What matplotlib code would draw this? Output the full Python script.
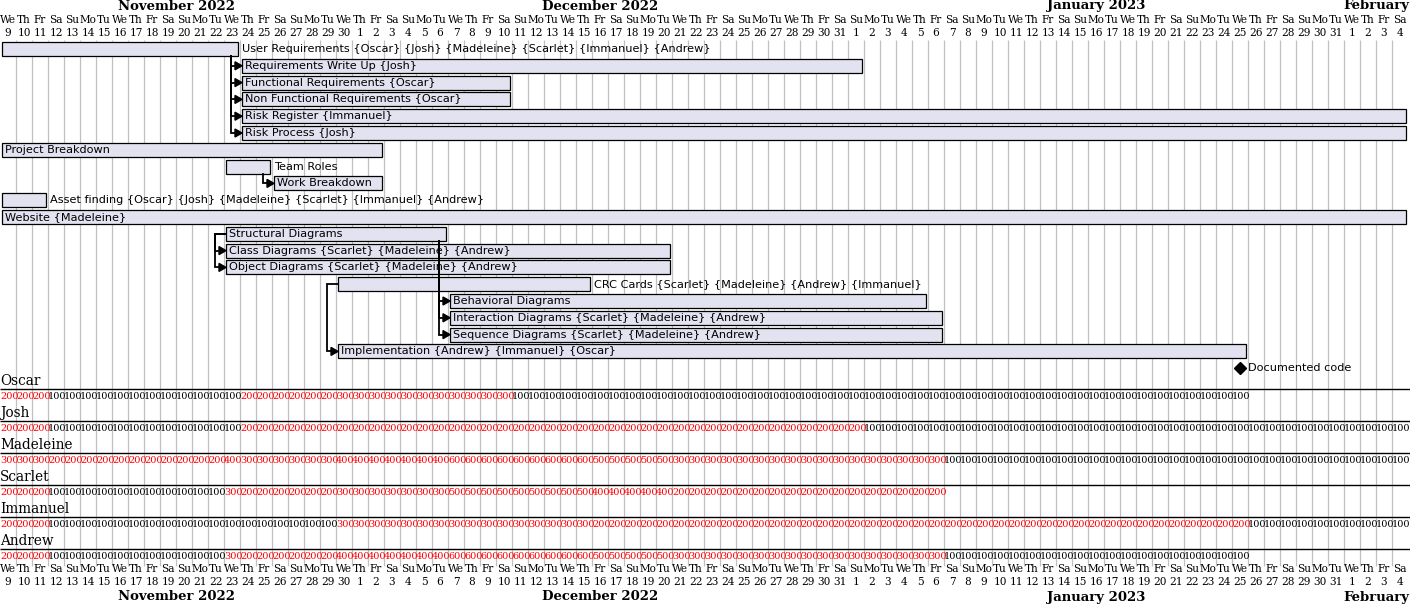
import matplotlib
matplotlib.use("Agg")
import matplotlib.pyplot as plt
from matplotlib.patches import Rectangle, Polygon
import pandas as pd

# calendar range shown
first_day = "2022-11-09"
last_day = "2023-02-04"

# tasks: name, first day, last day (inclusive), label drawn outside the bar
task_names = [
    "User Requirements {Oscar} {Josh} {Madeleine} {Scarlet} {Immanuel} {Andrew}",
    "Requirements Write Up {Josh}",
    "Functional Requirements {Oscar}",
    "Non Functional Requirements {Oscar}",
    "Risk Register {Immanuel}",
    "Risk Process {Josh}",
    "Project Breakdown",
    "Team Roles",
    "Work Breakdown",
    "Asset finding {Oscar} {Josh} {Madeleine} {Scarlet} {Immanuel} {Andrew}",
    "Website {Madeleine}",
    "Structural Diagrams",
    "Class Diagrams {Scarlet} {Madeleine} {Andrew}",
    "Object Diagrams {Scarlet} {Madeleine} {Andrew}",
    "CRC Cards {Scarlet} {Madeleine} {Andrew} {Immanuel}",
    "Behavioral Diagrams",
    "Interaction Diagrams {Scarlet} {Madeleine} {Andrew}",
    "Sequence Diagrams {Scarlet} {Madeleine} {Andrew}",
    "Implementation {Andrew} {Immanuel} {Oscar}",
]
task_start = [
    "2022-11-09", "2022-11-24", "2022-11-24", "2022-11-24", "2022-11-24",
    "2022-11-24", "2022-11-09", "2022-11-23", "2022-11-26", "2022-11-09",
    "2022-11-09", "2022-11-23", "2022-11-23", "2022-11-23", "2022-11-30",
    "2022-12-07", "2022-12-07", "2022-12-07", "2022-11-30",
]
task_end = [
    "2022-11-23", "2023-01-01", "2022-12-10", "2022-12-10", "2023-02-04",
    "2023-02-04", "2022-12-02", "2022-11-25", "2022-12-02", "2022-11-11",
    "2023-02-04", "2022-12-06", "2022-12-20", "2022-12-20", "2022-12-15",
    "2023-01-05", "2023-01-06", "2023-01-06", "2023-01-25",
]
label_outside = [0, 7, 9, 14]

milestone_name = "Documented code"
milestone_day = "2023-01-25"

# dependencies (source row, target row)
finish_to_start = [(0, 1), (0, 2), (0, 3), (0, 4), (0, 5), (7, 8),
                   (11, 15), (11, 16), (11, 17)]
start_to_start = [(11, 12), (11, 13), (14, 18)]

# daily resource load in %, as (number of days, load); None = nothing
resources = ["Oscar", "Josh", "Madeleine", "Scarlet", "Immanuel", "Andrew"]
oscar_load = [(3, 200), (12, 100), (6, 200), (11, 300), (46, 100), (10, None)]
josh_load = [(3, 200), (12, 100), (39, 200), (34, 100)]
madeleine_load = [(3, 300), (11, 200), (1, 400), (6, 300), (7, 400),
                  (9, 600), (5, 500), (17, 300), (29, 100)]
scarlet_load = [(3, 200), (11, 100), (1, 300), (6, 200), (7, 300),
                (9, 500), (5, 400), (17, 200), (29, None)]
immanuel_load = [(3, 200), (18, 100), (16, 300), (41, 200), (10, 100)]
andrew_load = [(3, 200), (11, 100), (1, 300), (6, 200), (7, 400),
               (9, 600), (5, 500), (17, 300), (19, 100), (10, None)]
loads = [oscar_load, josh_load, madeleine_load, scarlet_load,
         immanuel_load, andrew_load]

BAR_FILL = "#E2E2F0"
GRID = "#C0C0C0"
PX = 1 / 16  # one pixel in day units

t0 = pd.Timestamp(first_day)
days = pd.date_range(first_day, last_day)
n_days = len(days)


def day_index(d):
    return (pd.Timestamp(d) - t0).days


fig = plt.figure(figsize=(14.10, 6.04), dpi=100)
ax = fig.add_axes([0, 0, 1, 1])
ax.set_xlim(0, 1410 / 16)
ax.set_ylim(604, 0)
ax.axis("off")

# day grid
ax.vlines(range(1, n_days), 40, 566, color=GRID, lw=0.9, zorder=0)

# header / footer calendar
short = {0: "Mo", 1: "Tu", 2: "We", 3: "Th", 4: "Fr", 5: "Sa", 6: "Su"}
for i, d in enumerate(days):
    for yn, yd in ((20, 33), (569, 582)):
        ax.text(i + 0.5, yn, short[d.dayofweek], ha="center", va="center",
                family="DejaVu Serif", fontsize=7.6)
        ax.text(i + 0.5, yd, str(d.day), ha="center", va="center",
                family="DejaVu Serif", fontsize=7.6)
months = pd.Series(range(n_days), index=days).groupby(
    [days.year, days.month])
for (yr, mo), idx in months:
    mid = (idx.iloc[0] + idx.iloc[-1] + 1) / 2
    name = pd.Timestamp(year=yr, month=mo, day=1).strftime("%B")
    label = name if mo == 2 else f"{name} {yr}"
    for y in (6, 597):
        ax.text(mid, y, label, ha="center", va="center",
                family="DejaVu Serif", fontweight="bold", fontsize=9.5)

# task bars
row_y = [49 + 16.8 * r for r in range(len(task_names) + 1)]
bar_h = 14
starts = [day_index(s) for s in task_start]
ends = [day_index(e) + 1 for e in task_end]
for r, name in enumerate(task_names):
    x0 = starts[r] + 2 * PX
    x1 = ends[r] - 2 * PX
    ax.add_patch(Rectangle((x0, row_y[r] - bar_h / 2), x1 - x0, bar_h,
                           facecolor=BAR_FILL, edgecolor="black", lw=0.9,
                           zorder=2))
    tx = x1 + 4 * PX if r in label_outside else x0 + 3 * PX
    ax.text(tx, row_y[r], name, ha="left", va="center", fontsize=8.1,
            family="DejaVu Sans", zorder=4)


def arrow_head(x, y):
    ax.add_patch(Polygon([(x, y), (x - 7 * PX, y - 4), (x - 7 * PX, y + 4)],
                         closed=True, color="black", zorder=3))


for s, t in finish_to_start:
    vx = ends[s] - 9 * PX
    tx = starts[t] + 2 * PX
    ax.plot([vx, vx, tx - 5 * PX], [row_y[s] + bar_h / 2, row_y[t], row_y[t]],
            color="black", lw=1.3, zorder=3, solid_joinstyle="miter")
    arrow_head(tx, row_y[t])

for s, t in start_to_start:
    sx = starts[s] + 2 * PX
    vx = sx - 11 * PX
    tx = starts[t] + 2 * PX
    ax.plot([sx, vx, vx, tx - 5 * PX],
            [row_y[s], row_y[s], row_y[t], row_y[t]],
            color="black", lw=1.3, zorder=3, solid_joinstyle="miter")
    arrow_head(tx, row_y[t])

# milestone
m = day_index(milestone_day) + 0.5
my = row_y[len(task_names)]
ax.plot(m, my, marker="D", ms=6, color="black", zorder=3)
ax.text(m + 8 * PX, my, milestone_name, ha="left", va="center",
        fontsize=8.1, family="DejaVu Sans")

# resource load rows
for k, (who, load) in enumerate(zip(resources, loads)):
    line_y = 389 + 32 * k
    ax.text(0, line_y - 8, who, ha="left", va="center",
            family="DejaVu Serif", fontsize=9.8)
    ax.hlines(line_y, 0, 1410 / 16, color="black", lw=1.0, zorder=2)
    day = 0
    for count, pct in load:
        if pct is not None:
            for i in range(day, day + count):
                ax.text(i, line_y + 7.5, str(pct), ha="left",
                        va="center", family="DejaVu Serif", fontsize=7.0,
                        color="red" if pct > 100 else "black", zorder=4)
        day += count

fig.savefig("out.png", dpi=100)
